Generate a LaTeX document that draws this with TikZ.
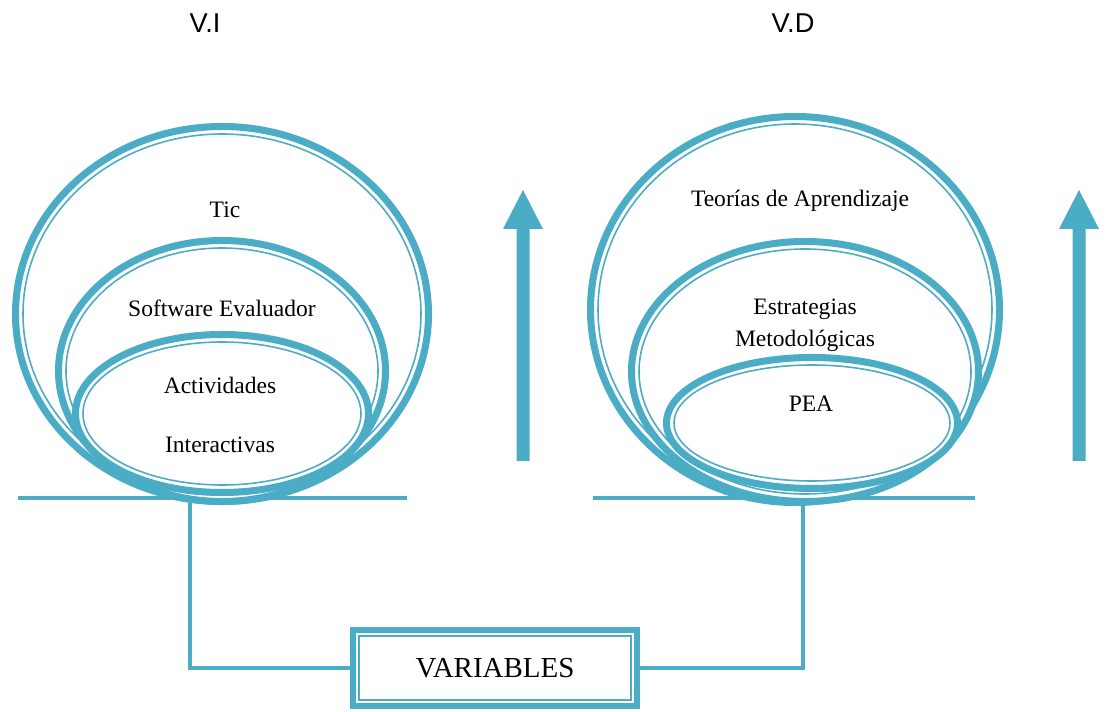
\documentclass[tikz,border=0pt]{standalone}
\usepackage{fontspec}
\setmainfont{Liberation Serif}
\newfontfamily\vsans{Liberation Sans}
\usetikzlibrary{calc}
\definecolor{aqua}{HTML}{4BACC6}
\tikzset{
 ring thick/.style={draw=aqua, line width=4pt, fill=white},
 ring thin/.style={draw=aqua, line width=.9pt},
 ground/.style={draw=aqua, line width=2.8pt},
 link/.style={draw=aqua, line width=2.8pt}
}
\tikzstyle{lbl}=[font=\fontsize{13.4}{16}\selectfont, anchor=base, inner sep=0pt]
\tikzstyle{vlbl}=[font=\vsans\fontsize{15.5}{18}\selectfont, anchor=base, inner sep=0pt]
\tikzstyle{varbox}=[draw=aqua, line width=3.4pt, fill=white, minimum width=5.68cm, minimum height=1.52cm, font=\fontsize{16.5}{19}\selectfont]
% #1 centre, #2 x radius, #3 y radius (outer edge, px)
\newcommand{\ringell}[3]{
 \filldraw[ring thick] #1 ellipse [x radius={#2-3.5}, y radius={#3-3.5}];
 \draw[ring thin] #1 ellipse [x radius={#2-11}, y radius={#3-11}];
}
% #1 x of the shaft centre
\newcommand{\risearrow}[1]{
 \fill[aqua] (#1-6.5,461) -- (#1-6.5,229) -- (#1-20,229) -- (#1,190) -- (#1+20,229) -- (#1+6.5,229) -- (#1+6.5,461) -- cycle;
}

\begin{document}
\begin{tikzpicture}[x=0.02cm, y=-0.02cm]
 \useasboundingbox (0,0) rectangle (1109,712);
%
 \draw[ground] (18,498) -- (407,498);
 \draw[ground] (593,498) -- (975,498);
 \coordinate (lfoot) at (190,498);
 \coordinate (rfoot) at (803,498);
%
 \ringell{(222,314)}{210}{191}
 \ringell{(222,371)}{167}{134}
 \ringell{(222,413.5)}{150}{82.5}
%
 \ringell{(795,309.5)}{208}{196.5}
 \ringell{(805,371.5)}{177}{133.5}
 \ringell{(812,423)}{149}{69}
%
 \risearrow{523}
 \risearrow{1079}
%
 \node[vlbl] (vi) at (205,33) {V.I};
 \node[vlbl] (vd) at (793,33) {V.D};
%
 \node[lbl] (tic) at (225,218) {Tic};
 \node[lbl] (soft) at (222,317) {Software Evaluador};
 \node[lbl] (act) at (220,394) {Actividades};
 \node[lbl] (inter) at (220,453) {Interactivas};
 \node[lbl] (teo) at (800,207) {Teorías de Aprendizaje};
 \node[lbl] (estr) at (805,315) {Estrategias};
 \node[lbl] (metod) at (805,347) {Metodológicas};
 \node[lbl] (pea) at (811,412) {PEA};
%
 \node[varbox] (vars) at (495,668) {VARIABLES};
 \draw[ring thin] ($(vars.north west)+(9,9)$) rectangle ($(vars.south east)+(-9,-9)$);
 \draw[link] (lfoot) |- (vars.west);
 \draw[link] (rfoot) |- (vars.east);
\end{tikzpicture}
\end{document}
